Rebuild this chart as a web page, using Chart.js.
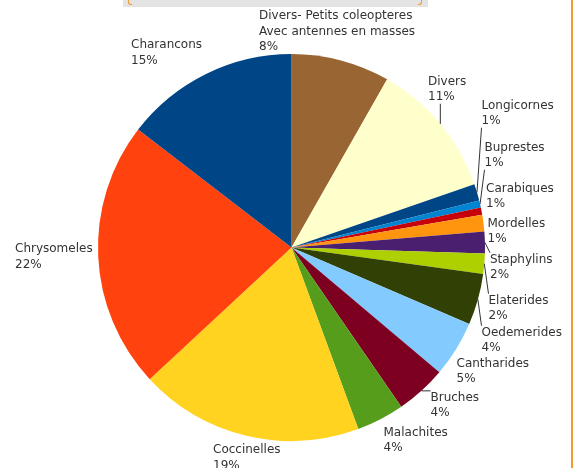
<!DOCTYPE html>
<html>
<head>
<meta charset="utf-8">
<script src="https://cdn.jsdelivr.net/npm/chart.js@4/dist/chart.umd.min.js"></script>
<style>
  body { margin: 0; background: #fff; }
  #wrap { position: relative; width: 577px; height: 468px; overflow: hidden; }
  #topbox { position: absolute; left: 123px; top: 0; width: 305px; height: 7px; background: #e4e4e4; }
  .brk { position: absolute; top: 0; width: 3px; height: 4px; border-bottom: 1px solid #f39a2e; }
  #rline { position: absolute; left: 571px; top: 0; width: 2px; height: 468px; background: #f39a2e; }
  canvas { position: absolute; left: 0; top: 0; }
</style>
</head>
<body>
<div id="wrap">
  <canvas id="pie" width="577" height="468"></canvas>
  <div id="topbox"></div>
  <div class="brk" style="left:128px;border-left:1px solid #f39a2e;border-bottom-left-radius:3px;"></div>
  <div class="brk" style="left:418px;border-right:1px solid #f39a2e;border-bottom-right-radius:3px;"></div>
  <div id="rline"></div>
</div>
<script>
// slices, clockwise from 12 o'clock
const categories = [
    'Divers- Petits coleopteres\nAvec antennes en masses',
    'Divers',
    'Longicornes',
    'Buprestes',
    'Carabiques',
    'Mordelles',
    'Staphylins',
    'Elaterides',
    'Oedemerides',
    'Cantharides',
    'Bruches',
    'Malachites',
    'Coccinelles',
    'Chrysomeles',
    'Charancons',
];
const shares = [8.25, 11.5, 1.4, 0.6, 0.6, 1.4, 1.8, 1.7, 4.3, 4.7, 4.25, 4.0, 18.75, 22.4, 14.6];

const sliceColors = [
    '#996633', '#ffffcc', '#004586', '#0084d1', '#c5000b',
    '#ff950e', '#4b1f6f', '#aecf00', '#314004', '#83caff',
    '#7e0021', '#579d1c', '#ffd320', '#ff420e', '#004586',
];

// label placement: text left / first line centre, relative to the pie centre
const labelOffsets = [
    [-32.5, -231.5], [136.5, -166], [190, -142], [193, -100], [194.5, -59],
    [196, -24], [198.5, 12], [197, 53], [190, 85], [165, 116],
    [139, 150], [92, 185], [-78.5, 202.5], [-276.5, 1.5], [-160.5, -202.5],
];
const hasLeader = [false, true, true, true, false, false, true, true, true, false, true, false, false, false, false];

const lineH = 15.5;

const pieLabels = {
    id: 'pieLabels',
    afterDatasetsDraw(chart) {
        const ctx = chart.ctx;
        const meta = chart.getDatasetMeta(0);
        const total = shares.reduce((a, b) => a + b, 0);
        ctx.save();
        ctx.font = '12px "DejaVu Sans", Verdana, sans-serif';
        ctx.fillStyle = '#333333';
        ctx.textBaseline = 'middle';
        ctx.textAlign = 'left';
        meta.data.forEach((arc, i) => {
            const lines = categories[i].split('\n');
            lines.push(Math.round(shares[i] / total * 100) + '%');
            const lx = arc.x + labelOffsets[i][0];
            const ly = arc.y + labelOffsets[i][1];
            let w = 0;
            lines.forEach((t, k) => {
                ctx.fillText(t, lx, ly + k * lineH);
                w = Math.max(w, ctx.measureText(t).width);
            });
            if (hasLeader[i]) {
                const mid = (arc.startAngle + arc.endAngle) / 2;
                const ex = arc.x + arc.outerRadius * Math.cos(mid);
                const ey = arc.y + arc.outerRadius * Math.sin(mid);
                const top = ly - lineH / 2 + 1;
                const bottom = ly + (lines.length - 1) * lineH + lineH / 2 - 1;
                const px = Math.min(Math.max(ex, lx), lx + w);
                const py = Math.min(Math.max(ey, top), bottom);
                ctx.strokeStyle = '#333333';
                ctx.lineWidth = 1;
                ctx.beginPath();
                ctx.moveTo(ex, ey);
                ctx.lineTo(px, py);
                ctx.stroke();
            }
        });
        ctx.restore();
    },
};

new Chart(document.getElementById('pie').getContext('2d'), {
    type: 'pie',
    data: {
        labels: categories,
        datasets: [{
            data: shares,
            backgroundColor: sliceColors,
            borderWidth: 0,
        }],
    },
    options: {
        responsive: false,
        animation: false,
        devicePixelRatio: 1,
        layout: { padding: { left: 98, right: 92, top: 54, bottom: 27 } },
        plugins: {
            legend: { display: false },
            tooltip: { enabled: false },
        },
    },
    plugins: [pieLabels],
});
</script>
</body>
</html>
